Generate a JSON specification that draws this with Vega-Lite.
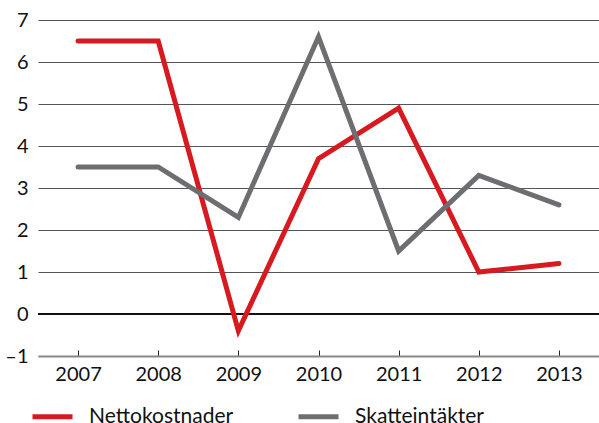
{
  "$schema": "https://vega.github.io/schema/vega-lite/v6.json",
  "autosize": "none",
  "width": 561,
  "height": 336,
  "padding": {"left": 38, "top": 20, "right": 0, "bottom": 67},
  "background": "white",
  "config": {
    "view": {"stroke": null},
    "font": "Lato",
    "axis": {"labelFont": "Lato", "labelColor": "#111", "labelFontSize": 20}
  },
  "data": {
    "values": [
      {"year": "2007", "series": "Nettokostnader", "value": 6.5},
      {"year": "2008", "series": "Nettokostnader", "value": 6.5},
      {"year": "2009", "series": "Nettokostnader", "value": -0.4},
      {"year": "2010", "series": "Nettokostnader", "value": 3.7},
      {"year": "2011", "series": "Nettokostnader", "value": 4.9},
      {"year": "2012", "series": "Nettokostnader", "value": 1.0},
      {"year": "2013", "series": "Nettokostnader", "value": 1.2},
      {"year": "2007", "series": "Skatteintäkter", "value": 3.5},
      {"year": "2008", "series": "Skatteintäkter", "value": 3.5},
      {"year": "2009", "series": "Skatteintäkter", "value": 2.3},
      {"year": "2010", "series": "Skatteintäkter", "value": 6.6},
      {"year": "2011", "series": "Skatteintäkter", "value": 1.5},
      {"year": "2012", "series": "Skatteintäkter", "value": 3.3},
      {"year": "2013", "series": "Skatteintäkter", "value": 2.6}
    ]
  },
  "layer": [
    {
      "data": {"values": [{"z": 0}]},
      "mark": {"type": "rule", "color": "#111", "strokeWidth": 2},
      "encoding": {"y": {"field": "z", "type": "quantitative"}}
    },
    {
      "mark": {"type": "line", "strokeWidth": 5, "strokeCap": "round", "strokeJoin": "miter"},
      "encoding": {
        "x": {
          "field": "year", "type": "ordinal",
          "scale": {"type": "point", "padding": 0.5},
          "axis": {
            "title": null, "labelAngle": 0, "domainColor": "#888", "domainWidth": 2,
            "tickColor": "#222", "tickWidth": 1, "tickSize": -6, "labelPadding": 14, "grid": false
          }
        },
        "y": {
          "field": "value", "type": "quantitative",
          "scale": {"domain": [-1, 7], "nice": false},
          "axis": {
            "title": null, "values": [-1, 0, 1, 2, 3, 4, 5, 6, 7], "labelOverlap": false,
            "domain": false, "ticks": false, "labelPadding": 10, "grid": true,
            "gridColor": "#555", "gridWidth": 1.2,
            "labelExpr": "datum.value < 0 ? '–' + abs(datum.value) : datum.label"
          }
        },
        "color": {
          "field": "series", "type": "nominal",
          "scale": {"domain": ["Nettokostnader", "Skatteintäkter"], "range": ["#d71920", "#6d6e71"]},
          "legend": {
            "title": null, "orient": "none", "legendX": -8, "legendY": 374, "direction": "horizontal",
            "symbolType": "stroke", "symbolSize": 1600, "symbolStrokeWidth": 5,
            "labelFont": "Lato", "labelFontSize": 21, "labelColor": "#111", "labelOffset": 14,
            "columnPadding": 54, "labelLimit": 300
          }
        }
      }
    }
  ]
}
